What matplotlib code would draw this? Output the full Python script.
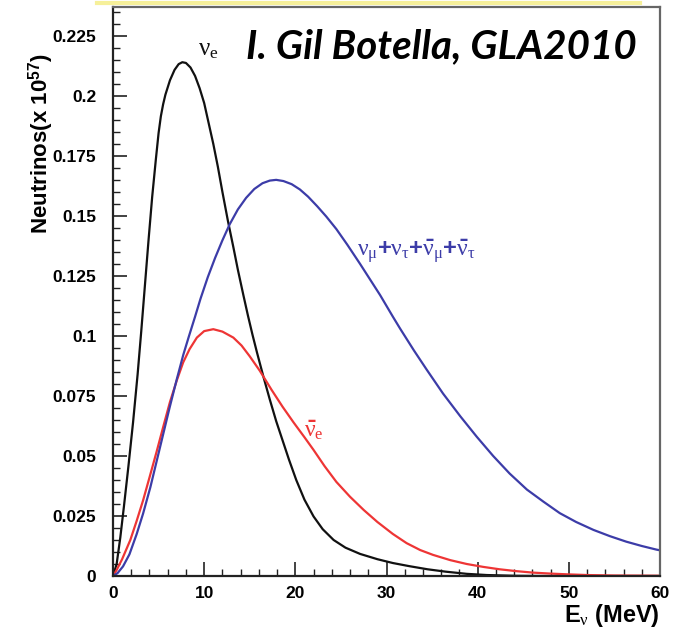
import numpy as np
import matplotlib
matplotlib.use("Agg")
import matplotlib.pyplot as plt
from matplotlib.lines import Line2D
from matplotlib.ticker import MultipleLocator, FuncFormatter

# values (E in MeV, neutrinos in units of 1e57)
nue_E = [0, 0.4, 0.8, 1.2, 1.7, 2.2, 2.7, 3.1, 3.5, 3.9, 4.3, 4.7, 5.0, 5.25, 5.5,
         5.75, 6.25, 6.75, 7.2, 7.6, 8.0, 8.5, 9.0, 9.5, 10.0, 10.5, 11.0, 11.5,
         12.0, 12.6, 13.2, 13.7, 14.3, 14.8, 15.3, 15.8, 16.5, 17.2, 17.9, 18.6,
         19.3, 20.1, 21.0, 22.0, 23.0, 24.2, 25.5, 27.1, 29.0, 30.7, 32.5, 34.5,
         36.5, 38.8, 41.0, 44.0, 47.0, 60.0]
nue_N = [0, 0.005, 0.016, 0.029, 0.046, 0.064, 0.084, 0.102, 0.121, 0.140, 0.158,
         0.1735, 0.1845, 0.1915, 0.1965, 0.2005, 0.2065, 0.2108, 0.2132, 0.214,
         0.2137, 0.2118, 0.2083, 0.2032, 0.197, 0.1885, 0.180, 0.1705, 0.160,
         0.148, 0.137, 0.1275, 0.117, 0.1085, 0.1005, 0.093, 0.083, 0.0735,
         0.0645, 0.0565, 0.0485, 0.040, 0.0318, 0.0248, 0.0195, 0.015, 0.0118,
         0.0092, 0.007, 0.0054, 0.0041, 0.0028, 0.0018, 0.0009, 0.0004, 0.0001,
         0.0, 0.0]

anue_E = [0, 0.4, 1.0, 1.9, 2.6, 3.3, 4.0, 4.8, 5.5, 6.25, 7.0, 7.7, 8.4, 9.2, 10.0,
          11.0, 12.0, 13.2, 14.1, 15.0, 16.1, 17.4, 18.6, 19.8, 21.0, 22.0, 23.2,
          24.5, 26.0, 27.5, 29.0, 30.7, 32.2, 33.7, 35.1, 37.0, 38.8, 40.6, 42.4,
          44.3, 46.1, 48.0, 49.8, 52.0, 55.0, 60.0]
anue_N = [0, 0.0025, 0.007, 0.015, 0.023, 0.0315, 0.041, 0.052, 0.062, 0.0725,
          0.0815, 0.089, 0.0945, 0.0993, 0.102, 0.1028, 0.1018, 0.0993, 0.096,
          0.0915, 0.0855, 0.0775, 0.0705, 0.064, 0.0578, 0.0525, 0.0458, 0.0392,
          0.033, 0.0275, 0.0225, 0.0175, 0.0137, 0.0108, 0.0088, 0.0066, 0.005,
          0.0038, 0.0028, 0.002, 0.0014, 0.001, 0.0007, 0.0004, 0.0002, 0.0001]

nux_E = [0, 0.5, 1.1, 1.8, 2.6, 3.3, 4.1, 4.8, 5.5, 6.2, 7.0, 7.7, 8.3, 9.0, 9.6,
         10.4, 11.2, 12.0, 12.8, 13.7, 14.6, 15.5, 16.4, 17.2, 17.9, 18.7, 19.6,
         20.5, 21.4, 22.4, 23.4, 24.5, 25.7, 27.1, 28.2, 29.3, 30.7, 31.5, 33.0,
         34.4, 36.2, 38.1, 39.9, 41.7, 43.5, 45.4, 47.2, 49.0, 50.8, 52.7, 54.5,
         56.3, 58.0, 59.6, 60.0]
nux_N = [0, 0.0012, 0.004, 0.009, 0.0175, 0.026, 0.037, 0.048, 0.059, 0.070, 0.082,
         0.092, 0.0995, 0.108, 0.1155, 0.1245, 0.1325, 0.1398, 0.1465, 0.1527,
         0.1575, 0.1612, 0.1636, 0.1647, 0.165, 0.1645, 0.1632, 0.161, 0.158,
         0.154, 0.1497, 0.1445, 0.138, 0.130, 0.1235, 0.117, 0.108, 0.103, 0.094,
         0.086, 0.076, 0.0665, 0.058, 0.050, 0.0427, 0.036, 0.031, 0.0262, 0.0225,
         0.0192, 0.0166, 0.0143, 0.0125, 0.011, 0.0107]

x_ticks = [0, 10, 20, 30, 40, 50, 60]
y_ticks = [0, 0.025, 0.05, 0.075, 0.1, 0.125, 0.15, 0.175, 0.2, 0.225]

plt.rcParams['font.family'] = ['Liberation Sans', 'DejaVu Sans']
plt.rcParams['font.weight'] = 'bold'
plt.rcParams['mathtext.fontset'] = 'custom'
plt.rcParams['mathtext.it'] = 'Liberation Serif:weight=normal'
plt.rcParams['mathtext.rm'] = 'Liberation Sans:bold'
plt.rcParams['mathtext.bf'] = 'Liberation Sans:bold'

fig = plt.figure(figsize=(6.73, 6.3), dpi=100)
ax = fig.add_axes([113 / 673, 1 - 576 / 630, 547 / 673, 569 / 630])

ax.plot(nue_E, nue_N, color='#111111', lw=1.6)
ax.plot(anue_E, anue_N, color='#ee3535', lw=1.6)
ax.plot(nux_E, nux_N, color='#3c3ca8', lw=1.6)

ax.set_xlim(0, 60)
ax.set_ylim(0, 0.237)
ax.set_xticks(x_ticks)
ax.set_yticks(y_ticks)
ax.xaxis.set_minor_locator(MultipleLocator(2))
ax.yaxis.set_minor_locator(MultipleLocator(0.005))
ax.yaxis.set_major_formatter(FuncFormatter(lambda v, p: f'{v:g}'))
ax.tick_params(which='both', direction='in', top=False, right=False,
               labelsize=12.5, color='#222222')
ax.tick_params(which='major', length=10, width=1.2)
ax.tick_params(which='minor', length=5, width=1.0)
ax.tick_params(axis='y', pad=12)
ax.tick_params(axis='x', pad=7)
for lab in ax.get_xticklabels() + ax.get_yticklabels():
    lab.set_fontweight('bold')

for s in ['left', 'bottom']:
    ax.spines[s].set_linewidth(1.6)
    ax.spines[s].set_color('#222222')
for s in ['top', 'right']:
    ax.spines[s].set_linewidth(1.6)
    ax.spines[s].set_color('#666666')

ax.set_ylabel(r'Neutrinos(x 10$^{57}$)', fontsize=16, fontweight='bold', loc='top')
ax.yaxis.set_label_coords(-0.104, 0.918)
ax.set_xlabel(r'E$_{\nu}$ (MeV)', fontsize=17, fontweight='bold', loc='right')
ax.xaxis.set_label_coords(1.0, -0.046)

ax.text(9.3, 0.217, r'$\nu_{e}$', fontsize=18, color='#111111')
ax.text(26.8, 0.133, r'$\nu_{\mu}$+$\nu_{\tau}$+$\bar{\nu}_{\mu}$+$\bar{\nu}_{\tau}$',
        fontsize=17, color='#3c3ca8')
ax.text(21.0, 0.058, r'$\bar{\nu}_{e}$', fontsize=17, color='#ee3535')

fig.text(637 / 673, 1 - 47 / 630, 'I. Gil Botella, GLA2010', family='Lato',
         fontsize=29, fontweight='bold', style='italic', ha='right', va='center')

fig.add_artist(Line2D([97 / 673, 640 / 673], [1 - 3 / 630, 1 - 3 / 630],
                      color='#f6f09a', lw=3))

plt.savefig('out.png', dpi=100)
